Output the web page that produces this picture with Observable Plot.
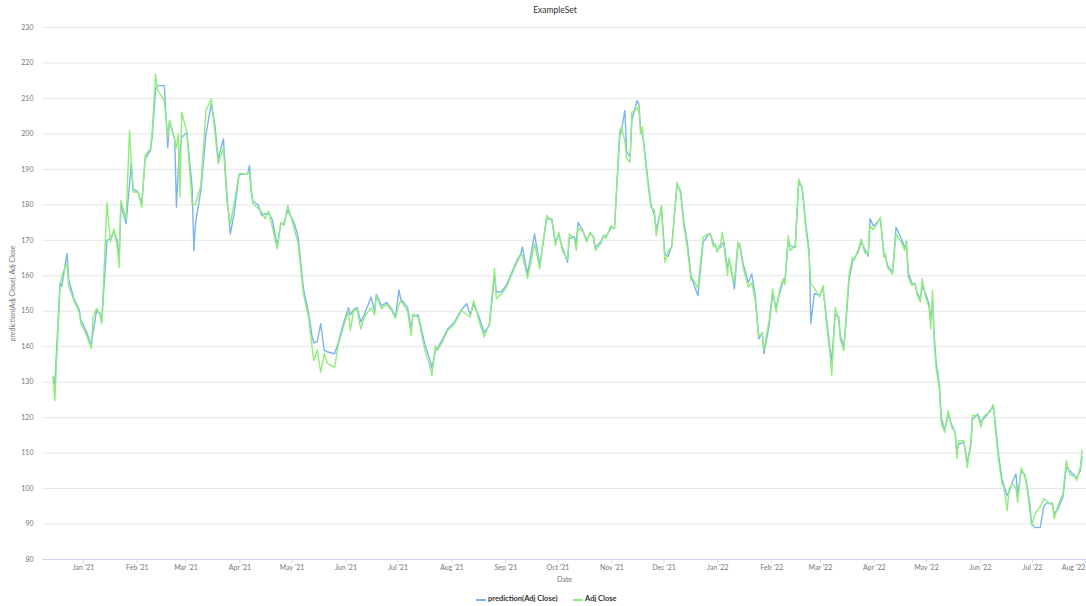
<!DOCTYPE html>
<html><head><meta charset="utf-8">
<script src="https://cdn.jsdelivr.net/npm/d3@7"></script>
<script src="https://cdn.jsdelivr.net/npm/@observablehq/plot@0.6"></script>
<style>
body{margin:0;background:#fff;font-family:"Lato","Open Sans",sans-serif;width:1086px;height:606px;overflow:hidden;position:relative}
#title{position:absolute;left:455px;width:200px;top:4px;text-align:center;font-size:8.5px;color:#333;line-height:12px}
#chart{position:absolute;left:0;top:20px}
.sw{position:absolute;width:10px;height:2px;top:599px}
.lt{position:absolute;top:594px;font-size:7.5px;font-weight:bold;color:#333;line-height:10px;white-space:nowrap}
</style></head><body>
<div id="title">ExampleSet</div>
<div id="chart"></div>
<div class="sw" style="left:476px;background:#7cb5ec"></div>
<div class="lt" style="left:488px">prediction(Adj Close)</div>
<div class="sw" style="left:573px;background:#90ed7d"></div>
<div class="lt" style="left:585px">Adj Close</div>
<script>
const dates = ["2020-12-14","2020-12-15","2020-12-18","2020-12-19","2020-12-22","2020-12-23","2020-12-26","2020-12-29","2020-12-30",
"2021-01-02","2021-01-05","2021-01-06","2021-01-08","2021-01-10","2021-01-11","2021-01-14","2021-01-16","2021-01-18","2021-01-20","2021-01-21","2021-01-22","2021-01-25","2021-01-27","2021-01-28","2021-01-29",
"2021-02-01","2021-02-03","2021-02-05","2021-02-08","2021-02-09","2021-02-11","2021-02-12","2021-02-16","2021-02-18","2021-02-19","2021-02-22","2021-02-23","2021-02-24","2021-02-25","2021-02-26",
"2021-03-01","2021-03-04","2021-03-05","2021-03-06","2021-03-09","2021-03-12","2021-03-15","2021-03-17","2021-03-19","2021-03-22","2021-03-24","2021-03-26","2021-03-28","2021-03-31",
"2021-04-05","2021-04-06","2021-04-07","2021-04-08","2021-04-11","2021-04-13","2021-04-15","2021-04-17","2021-04-19","2021-04-22","2021-04-24","2021-04-26","2021-04-28",
"2021-05-02","2021-05-04","2021-05-07","2021-05-10","2021-05-12","2021-05-13","2021-05-15","2021-05-17","2021-05-19","2021-05-21","2021-05-25","2021-05-27","2021-05-30",
"2021-06-02","2021-06-03","2021-06-05","2021-06-07","2021-06-09","2021-06-11","2021-06-15","2021-06-17","2021-06-18","2021-06-21","2021-06-24","2021-06-27","2021-06-29",
"2021-07-01","2021-07-02","2021-07-06","2021-07-08","2021-07-09","2021-07-12","2021-07-16","2021-07-19","2021-07-20","2021-07-22","2021-07-23","2021-07-26","2021-07-29",
"2021-08-02","2021-08-06","2021-08-09","2021-08-11","2021-08-13","2021-08-16","2021-08-19","2021-08-22","2021-08-25","2021-08-26","2021-08-29",
"2021-09-01","2021-09-04","2021-09-07","2021-09-09","2021-09-10","2021-09-13","2021-09-17","2021-09-20","2021-09-24","2021-09-27","2021-09-29",
"2021-10-01","2021-10-03","2021-10-06","2021-10-07","2021-10-10","2021-10-11","2021-10-12","2021-10-15","2021-10-17","2021-10-19","2021-10-21","2021-10-22","2021-10-25","2021-10-27","2021-10-28","2021-10-31",
"2021-11-02","2021-11-05","2021-11-06","2021-11-08","2021-11-09","2021-11-11","2021-11-12","2021-11-15","2021-11-16","2021-11-17","2021-11-18","2021-11-19","2021-11-21","2021-11-23","2021-11-25","2021-11-26","2021-11-29",
"2021-12-01","2021-12-03","2021-12-05","2021-12-08","2021-12-10","2021-12-12","2021-12-14","2021-12-16","2021-12-17","2021-12-20","2021-12-23","2021-12-26","2021-12-27","2021-12-29","2021-12-30","2021-12-31",
"2022-01-02","2022-01-03","2022-01-04","2022-01-06","2022-01-07","2022-01-08","2022-01-10","2022-01-12","2022-01-13","2022-01-15","2022-01-18","2022-01-20","2022-01-22","2022-01-24","2022-01-26","2022-01-27","2022-01-30",
"2022-02-01","2022-02-03","2022-02-05","2022-02-07","2022-02-08","2022-02-10","2022-02-11","2022-02-14","2022-02-16","2022-02-18","2022-02-20","2022-02-22","2022-02-23","2022-02-25","2022-02-28",
"2022-03-02","2022-03-04","2022-03-06","2022-03-07","2022-03-09","2022-03-11","2022-03-12","2022-03-14","2022-03-16","2022-03-17","2022-03-19","2022-03-20","2022-03-22","2022-03-24","2022-03-26","2022-03-28","2022-03-29","2022-03-31",
"2022-04-02","2022-04-04","2022-04-06","2022-04-07","2022-04-08","2022-04-11","2022-04-13","2022-04-16","2022-04-18","2022-04-19","2022-04-20","2022-04-22","2022-04-24","2022-04-25","2022-04-27","2022-04-28","2022-04-30",
"2022-05-02","2022-05-03","2022-05-04","2022-05-05","2022-05-06","2022-05-08","2022-05-09","2022-05-11","2022-05-13","2022-05-15","2022-05-17","2022-05-18","2022-05-19","2022-05-22","2022-05-24","2022-05-26","2022-05-27","2022-05-30",
"2022-06-01","2022-06-02","2022-06-04","2022-06-06","2022-06-08","2022-06-09","2022-06-11","2022-06-13","2022-06-14","2022-06-16","2022-06-17","2022-06-19","2022-06-21","2022-06-22","2022-06-24","2022-06-26","2022-06-27","2022-06-29","2022-06-30",
"2022-07-02","2022-07-05","2022-07-07","2022-07-09","2022-07-10","2022-07-12","2022-07-13","2022-07-15","2022-07-18","2022-07-20","2022-07-22","2022-07-25","2022-07-26","2022-07-28","2022-07-29"];

const adjClose = [131.7,124.8,156.8,160.0,163.5,157.0,153.0,149.7,146.5,
143.5,139.5,148.3,150.8,149.0,146.5,180.7,169.5,173.2,168.0,162.4,181.2,176.0,201.0,192.0,183.6,
183.6,179.3,193.9,195.8,200.5,216.9,212.5,209.4,199.1,203.8,198.1,196.0,200.0,182.2,206.1,
200.5,180.3,180.0,180.3,185.5,206.6,209.9,201.0,191.6,196.0,181.2,174.6,180.0,188.8,
188.8,189.0,183.6,180.3,179.0,178.0,176.1,178.3,174.0,167.6,175.1,174.2,179.8,
172.8,169.0,154.9,148.3,139.9,136.1,139.0,132.8,138.0,135.2,134.2,140.3,145.5,
150.2,144.6,150.2,150.5,145.0,148.3,151.0,149.0,154.4,150.7,152.0,150.0,148.0,
152.0,153.0,150.0,143.2,149.3,148.3,138.9,134.2,131.9,140.3,138.9,141.3,144.6,
146.5,150.2,149.0,148.3,153.0,147.4,142.7,146.5,162.0,153.5,154.9,
156.8,160.5,163.8,165.7,166.0,159.2,169.0,162.0,177.0,175.6,168.5,
172.3,167.1,164.5,171.8,170.4,167.1,173.5,172.3,169.5,172.3,170.5,167.1,169.0,171.3,170.5,174.2,
173.2,201.0,201.9,198.0,193.0,192.0,206.1,207.0,208.0,200.0,202.0,196.0,186.9,179.3,178.5,171.3,179.8,
163.8,167.1,168.1,186.4,183.1,173.7,167.6,158.7,159.2,156.5,170.9,171.8,171.8,168.1,169.0,166.7,
169.0,172.3,168.5,160.1,165.2,161.5,158.0,169.5,168.5,162.4,156.8,158.0,153.0,143.0,143.6,139.0,147.4,
156.3,149.7,155.9,159.2,157.5,171.3,167.1,168.5,187.3,184.5,173.7,165.7,157.7,156.5,154.0,
157.3,146.5,138.0,131.9,151.1,147.4,141.8,138.9,154.0,160.5,165.2,164.5,167.1,170.4,166.5,166.2,174.0,173.0,
174.5,176.5,165.2,166.0,162.4,160.5,171.8,169.5,167.1,170.0,159.6,157.3,158.0,154.9,152.6,159.2,154.0,
151.1,145.0,155.9,140.8,134.2,127.7,118.3,115.9,122.0,117.3,115.9,108.4,113.5,113.5,106.0,113.0,120.6,120.6,
117.3,120.0,121.0,121.5,123.7,117.5,107.9,101.4,100.5,93.8,100.0,101.4,100.0,96.2,105.9,103.5,101.4,93.8,89.6,
92.9,95.0,97.1,96.5,95.7,96.0,91.5,95.0,98.5,107.9,104.0,103.3,102.3,106.0,110.8];

const prediction = [131.5,129.5,158.0,157.0,166.3,159.0,153.5,150.5,147.5,
144.5,140.5,144.0,150.0,149.5,147.0,170.0,170.5,172.5,170.0,164.0,180.0,174.7,186.0,192.0,184.5,
183.6,180.0,193.0,195.3,199.0,212.7,213.6,213.6,196.1,203.8,198.5,179.3,190.0,195.0,199.0,
200.5,185.0,167.1,175.0,184.0,200.0,208.5,203.0,193.0,198.6,183.0,171.8,177.0,188.5,
188.8,191.1,184.5,181.0,180.0,177.0,177.5,177.5,176.0,168.5,174.5,175.0,178.5,
174.5,171.0,156.5,149.5,143.0,141.0,141.5,146.5,139.0,138.5,138.0,141.0,146.5,
151.0,149.0,150.5,151.0,147.0,149.0,154.0,150.0,154.8,151.5,152.5,150.5,148.5,
156.0,153.5,151.1,145.0,148.5,149.0,140.5,136.0,134.0,139.0,139.5,142.0,145.0,
147.0,150.5,152.1,149.0,152.0,148.5,144.0,146.0,160.0,155.5,155.5,
157.5,161.0,164.5,166.0,168.1,160.5,171.8,163.0,176.0,176.0,169.5,
171.5,168.0,163.8,170.5,171.0,168.5,175.1,172.5,170.0,172.0,171.0,168.0,169.5,171.5,171.0,173.5,
173.5,199.0,201.0,206.6,195.0,193.5,204.0,209.4,208.5,201.5,200.0,197.0,188.0,180.0,177.0,173.0,179.0,
166.0,165.5,168.5,185.5,184.0,175.0,169.0,160.0,158.5,154.4,169.5,171.5,172.0,169.0,168.5,167.5,
168.0,169.0,169.5,162.0,164.5,162.5,156.3,168.5,169.0,163.5,158.0,160.5,154.5,142.2,144.0,138.0,146.0,
155.0,151.0,155.0,158.5,158.0,170.0,168.5,168.0,186.5,185.0,175.0,167.0,146.5,155.0,154.5,
156.5,148.0,139.5,136.0,149.0,148.5,143.0,140.0,152.0,159.0,164.0,165.0,166.5,169.5,167.5,165.5,176.1,174.0,
175.0,176.0,166.5,165.5,163.0,161.0,173.7,170.5,168.0,169.5,161.0,158.0,157.5,155.5,153.5,157.0,155.0,
152.0,147.5,153.0,143.0,136.0,129.0,120.0,116.5,121.0,118.0,116.0,110.5,112.5,113.0,107.5,112.0,119.5,121.0,
118.5,119.5,120.5,122.0,123.0,119.0,109.5,102.5,101.0,98.0,99.0,102.0,104.2,98.0,105.0,104.0,102.0,95.5,90.0,
89.0,89.1,95.0,96.0,96.0,95.5,93.0,94.0,97.5,106.0,105.0,103.5,103.0,105.0,109.0];

const yTicks = [80,90,100,110,120,130,140,150,160,170,180,190,200,210,220,230];
const monthTicks = ["2021-01-01","2021-02-01","2021-03-01","2021-04-01","2021-05-01","2021-06-01","2021-07-01","2021-08-01","2021-09-01","2021-10-01","2021-11-01","2021-12-01",
"2022-01-01","2022-02-01","2022-03-01","2022-04-01","2022-05-01","2022-06-01","2022-07-01"];
const lastTick = ["2022-08-01"];
const xDomain = ["2020-12-08T10:00:00Z","2022-08-01T02:00:00Z"];

const rows = dates.map((d, i) => ({date: new Date(d + "T12:00:00Z"), adj: adjClose[i], pred: prediction[i]}));
const fmt = d3.utcFormat("%b '%y");
const toDate = s => new Date(s + "T00:00:00Z");

const chart = Plot.plot({
  width: 1086, height: 566,
  marginLeft: 42, marginRight: 0, marginTop: 7, marginBottom: 27,
  x: {type: "utc", domain: xDomain.map(s => new Date(s))},
  y: {domain: [80, 230]},
  style: {fontFamily: "Lato, 'Open Sans', sans-serif", fontSize: "7px", color: "#666", background: "white"},
  marks: [
    Plot.gridY(yTicks, {stroke: "#e6e6e6", strokeOpacity: 1}),
    Plot.axisY(yTicks, {tickSize: 0, tickPadding: 9, label: null, fill: "#777"}),
    Plot.ruleY([80], {stroke: "#ccd6eb"}),
    Plot.axisX(monthTicks.map(toDate), {tickSize: 4, tickPadding: 2, stroke: "#ccd6eb", fill: "#777", tickFormat: fmt, label: null}),
    Plot.axisX(lastTick.map(toDate), {tickSize: 4, tickPadding: 2, stroke: "#ccd6eb", fill: "#777", tickFormat: fmt, label: null, textAnchor: "end", dx: -1}),
    Plot.line(rows, {x: "date", y: "pred", stroke: "#7cb5ec", strokeWidth: 1.4}),
    Plot.line(rows, {x: "date", y: "adj", stroke: "#90ed7d", strokeWidth: 1.4}),
    Plot.text(["prediction(Adj Close), Adj Close"], {frameAnchor: "left", rotate: -90, dx: -30, textAnchor: "middle", lineAnchor: "middle", fill: "#777", fontSize: 7}),
    Plot.text(["Date"], {frameAnchor: "bottom", dy: 20, lineAnchor: "middle", fill: "#777", fontSize: 7})
  ]
});
document.getElementById("chart").append(chart);
</script>
</body></html>
